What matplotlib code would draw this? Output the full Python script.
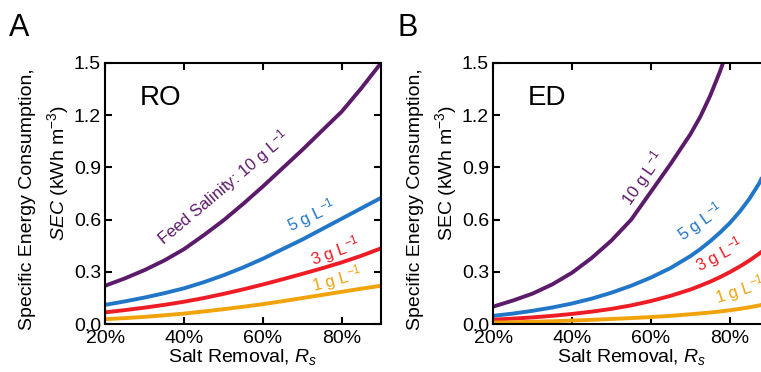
import matplotlib
matplotlib.use("Agg")
import matplotlib.pyplot as plt

plt.rcParams['font.family'] = ['Liberation Sans', 'DejaVu Sans']
plt.rcParams['mathtext.fontset'] = 'custom'
plt.rcParams['mathtext.rm'] = 'Liberation Sans'
plt.rcParams['mathtext.it'] = 'Liberation Sans:italic'

# salt removal (%)
removal = [20, 25, 30, 35, 40, 45, 50, 55, 60, 65, 70, 75, 80, 85, 90]
removal_ed = [20, 25, 30, 35, 40, 45, 50, 55, 60, 65, 70, 72.5, 75, 77.5, 80,
              82.5, 85, 87.5, 90]

# RO specific energy consumption (kWh m^-3)
ro_10 = [0.22, 0.262, 0.31, 0.365, 0.43, 0.51, 0.595, 0.69, 0.79, 0.895, 1.0, 1.11, 1.22, 1.355, 1.50]
ro_5 = [0.11, 0.13, 0.152, 0.177, 0.205, 0.24, 0.28, 0.325, 0.375, 0.43, 0.485, 0.545, 0.605, 0.665, 0.725]
ro_3 = [0.067, 0.08, 0.094, 0.11, 0.128, 0.149, 0.173, 0.199, 0.227, 0.257, 0.288, 0.32, 0.354, 0.392, 0.435]
ro_1 = [0.028, 0.034, 0.041, 0.05, 0.06, 0.072, 0.085, 0.099, 0.114, 0.131, 0.149, 0.167, 0.185, 0.203, 0.22]

# ED specific energy consumption (kWh m^-3)
ed_10 = [0.10, 0.135, 0.175, 0.228, 0.295, 0.38, 0.48, 0.60, 0.76, 0.92, 1.09,
         1.19, 1.31, 1.45, 1.61, 1.80, 2.00, 2.25, 2.50]
ed_5 = [0.047, 0.06, 0.076, 0.095, 0.118, 0.146, 0.18, 0.22, 0.267, 0.322, 0.39,
        0.43, 0.475, 0.525, 0.58, 0.645, 0.72, 0.81, 0.93]
ed_3 = [0.025, 0.031, 0.038, 0.047, 0.058, 0.071, 0.087, 0.107, 0.132, 0.162, 0.198,
        0.22, 0.243, 0.269, 0.298, 0.33, 0.365, 0.405, 0.45]
ed_1 = [0.008, 0.01, 0.013, 0.016, 0.02, 0.024, 0.029, 0.034, 0.04, 0.047, 0.056,
        0.061, 0.066, 0.072, 0.079, 0.087, 0.096, 0.107, 0.12]

purple = '#5c1a6b'
blue = '#2176c7'
red = '#ee1c24'
orange = '#f0a30a'

fig = plt.figure(figsize=(7.61, 3.72), dpi=100)
axA = fig.add_axes([0.1382, 0.129, 0.3626, 0.702])
axB = fig.add_axes([0.6482, 0.129, 0.3626, 0.702])


def style(ax):
    ax.set_xlim(20, 90)
    ax.set_ylim(0, 1.5)
    ax.set_xticks([20, 40, 60, 80])
    ax.set_xticklabels(['20%', '40%', '60%', '80%'])
    ax.set_yticks([0, 0.3, 0.6, 0.9, 1.2, 1.5])
    ax.set_yticklabels(['0.0', '0.3', '0.6', '0.9', '1.2', '1.5'])
    ax.tick_params(direction='in', top=True, right=True, length=5, width=1.5,
                   labelsize=14)
    ax.tick_params(axis='x', pad=4)
    ax.tick_params(axis='y', pad=3)
    for s in ax.spines.values():
        s.set_linewidth(1.5)
    ax.set_xlabel('Salt Removal, $R_s$', fontsize=14, labelpad=0)


lw = 2.8
for ax, xs, ys, name in [(axA, removal, [ro_10, ro_5, ro_3, ro_1], 'RO'),
                         (axB, removal_ed, [ed_10, ed_5, ed_3, ed_1], 'ED')]:
    for y, c in zip(ys, [purple, blue, red, orange]):
        ax.plot(xs, y, color=c, lw=lw, solid_capstyle='butt',
                solid_joinstyle='round')
    style(ax)
    ax.text(28.7, 1.30, name, fontsize=20, ha='left', va='center')

# y labels, two lines
for ax, secstyle in [(axA, '$SEC$'), (axB, 'SEC')]:
    ax.text(-0.283, 0.479, 'Specific Energy Consumption,', transform=ax.transAxes,
            rotation=90, ha='center', va='center', fontsize=14)
    ax.text(-0.172, 0.578, secstyle + ' (kWh m$^{-3}$)', transform=ax.transAxes,
            rotation=90, ha='center', va='center', fontsize=14)

# curve labels, panel A
lab = dict(ha='center', va='center', rotation_mode='anchor', fontsize=12)
axA.text(50.0, 0.78, 'Feed Salinity: 10 g L$^{-1}$', color=purple, rotation=40, **lab)
axA.text(72.5, 0.625, '5 g L$^{-1}$', color=blue, rotation=25, **lab)
axA.text(78.3, 0.415, '3 g L$^{-1}$', color=red, rotation=20, **lab)
axA.text(78.8, 0.258, '1 g L$^{-1}$', color=orange, rotation=15, **lab)

# curve labels, panel B
axB.text(58.1, 0.837, '10 g L$^{-1}$', color=purple, rotation=55, **lab)
axB.text(72.5, 0.587, '5 g L$^{-1}$', color=blue, rotation=35, **lab)
axB.text(77.5, 0.396, '3 g L$^{-1}$', color=red, rotation=28, **lab)
axB.text(82.6, 0.195, '1 g L$^{-1}$', color=orange, rotation=18, **lab)

fig.text(0.012, 0.965, 'A', fontsize=22, ha='left', va='top')
fig.text(0.522, 0.965, 'B', fontsize=22, ha='left', va='top')

fig.savefig('out.png', dpi=100)
